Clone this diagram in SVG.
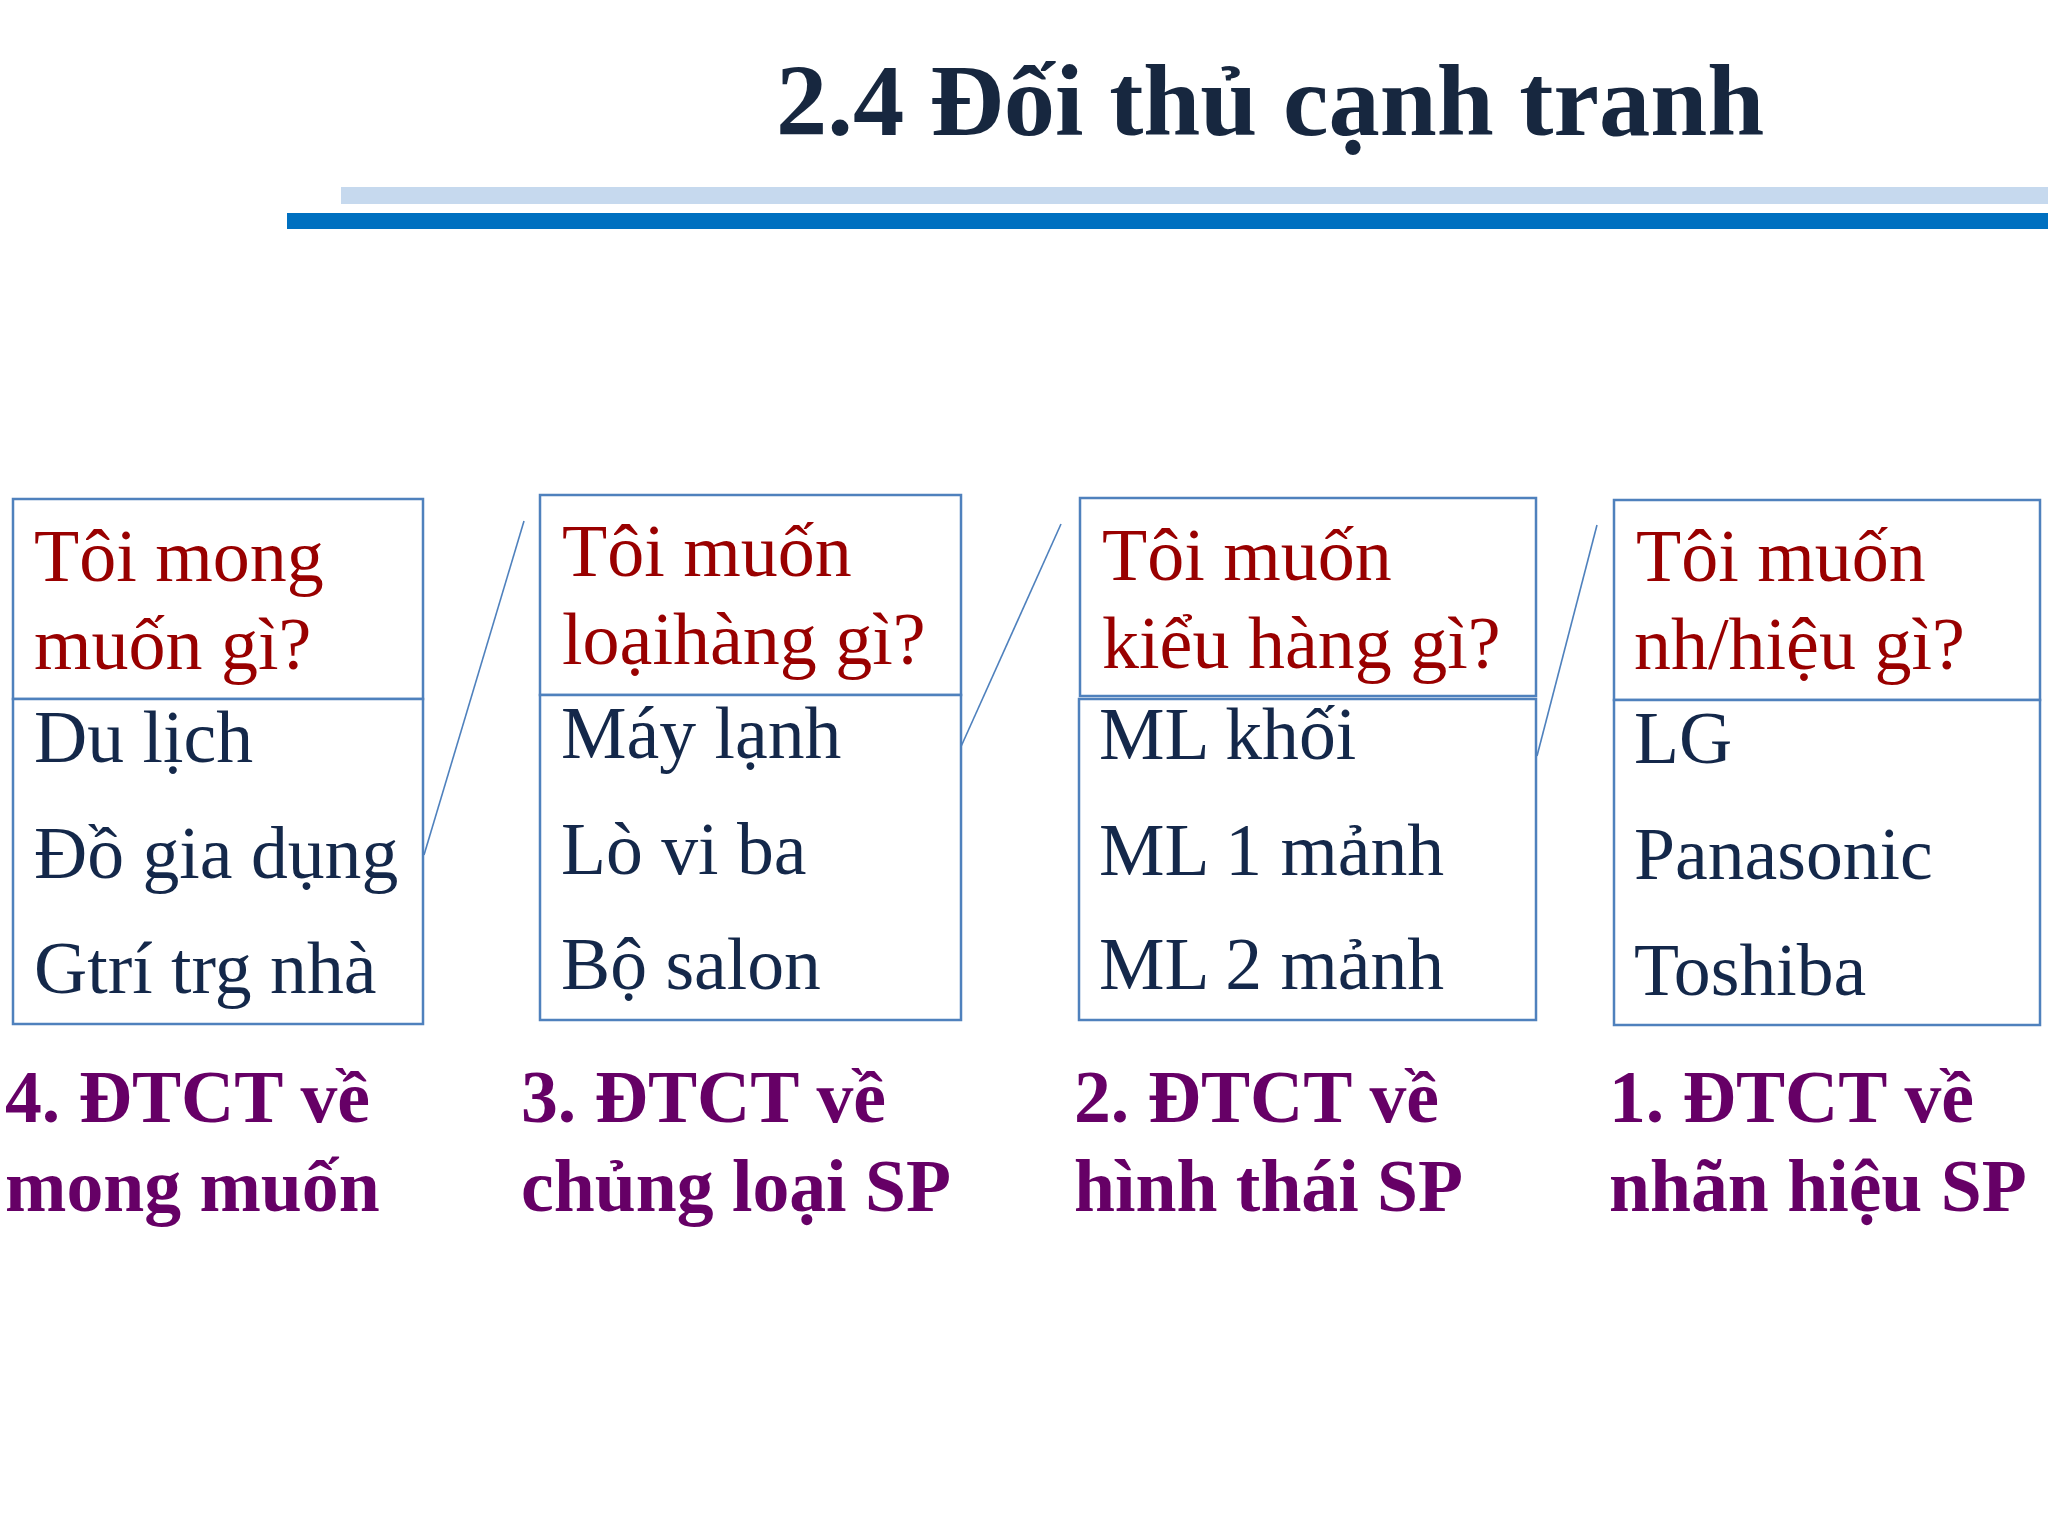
<svg xmlns="http://www.w3.org/2000/svg" width="2048" height="1536" viewBox="0 0 2048 1536">
<style>
.box{fill:#FFFFFF;stroke:#4F81BD;stroke-width:2.5}
.conn{stroke:#4F81BD;stroke-width:1.6;fill:none}
.hd{font-family:"Liberation Serif","Times New Roman",serif;font-size:74px;fill:#990000}
.it{font-family:"Liberation Serif","Times New Roman",serif;font-size:73.7px;fill:#14284A}
.lb{font-family:"Liberation Serif","Times New Roman",serif;font-size:73.7px;font-weight:bold;fill:#660066}
.title{font-family:"Liberation Serif","Times New Roman",serif;font-size:102.5px;font-weight:bold;fill:#17273F}
</style>
<rect x="0" y="0" width="2048" height="1536" fill="#FFFFFF"/>
<g id="header">
<text class="title" x="776" y="135">2.4 Đối thủ cạnh tranh</text>
<rect x="341" y="187" width="1707" height="17" fill="#C6D9EE"/>
<rect x="287" y="213" width="1761" height="16" fill="#0070C0"/>
</g>
<g id="connectors">
<line class="conn" x1="524" y1="521" x2="424" y2="855"/>
<line class="conn" x1="1061" y1="524" x2="955" y2="760"/>
<line class="conn" x1="1597" y1="525" x2="1537" y2="756"/>
</g>
<g id="node4">
<rect class="box" x="13" y="499" width="410" height="200"/>
<rect class="box" x="13" y="699" width="410" height="325"/>
<text class="hd" x="34" y="581">Tôi mong</text>
<text class="hd" x="34" y="669">muốn gì?</text>
<text class="it" x="34" y="762">Du lịch</text>
<text class="it" x="34" y="878">Đồ gia dụng</text>
<text class="it" x="34" y="993">Gtrí trg nhà</text>
</g>
<g id="node3">
<rect class="box" x="540" y="495" width="421" height="200"/>
<rect class="box" x="540" y="695" width="421" height="325"/>
<text class="hd" x="562" y="576">Tôi muốn</text>
<text class="hd" x="562" y="664">loạihàng gì?</text>
<text class="it" x="561" y="758">Máy lạnh</text>
<text class="it" x="561" y="874">Lò vi ba</text>
<text class="it" x="561" y="989">Bộ salon</text>
</g>
<g id="node2">
<rect class="box" x="1080" y="498" width="456" height="198"/>
<rect class="box" x="1079" y="699" width="457" height="321"/>
<text class="hd" x="1102" y="580">Tôi muốn</text>
<text class="hd" x="1102" y="668">kiểu hàng gì?</text>
<text class="it" x="1099" y="759">ML khối</text>
<text class="it" x="1099" y="875">ML 1 mảnh</text>
<text class="it" x="1099" y="989">ML 2 mảnh</text>
</g>
<g id="node1">
<rect class="box" x="1614" y="500" width="426" height="200"/>
<rect class="box" x="1614" y="700" width="426" height="325"/>
<text class="hd" x="1636" y="581">Tôi muốn</text>
<text class="hd" x="1634" y="669">nh/hiệu gì?</text>
<text class="it" x="1634" y="763">LG</text>
<text class="it" x="1634" y="879">Panasonic</text>
<text class="it" x="1634" y="995">Toshiba</text>
</g>
<g id="labels">
<text class="lb" x="5" y="1122">4. ĐTCT về</text>
<text class="lb" x="5" y="1211">mong muốn</text>
<text class="lb" x="521" y="1122">3. ĐTCT về</text>
<text class="lb" x="521" y="1211">chủng loại SP</text>
<text class="lb" x="1074" y="1122">2. ĐTCT về</text>
<text class="lb" x="1074" y="1211">hình thái SP</text>
<text class="lb" x="1609" y="1122">1. ĐTCT về</text>
<text class="lb" x="1609" y="1211">nhãn hiệu SP</text>
</g>
</svg>
